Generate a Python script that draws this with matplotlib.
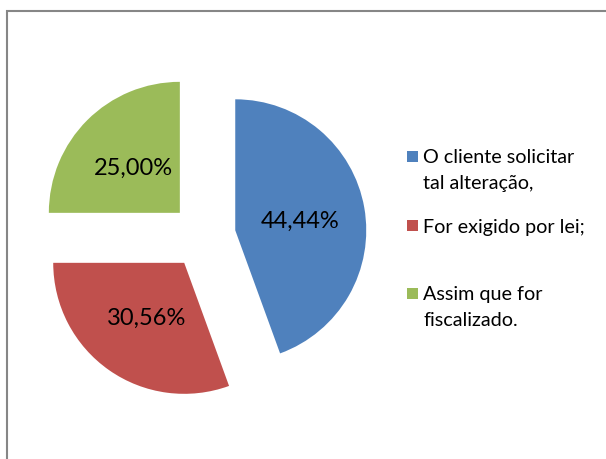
import matplotlib
matplotlib.use("Agg")
import matplotlib.pyplot as plt
from matplotlib.patches import Rectangle

# chart data
labels = ["O cliente solicitar\ntal alteração,", "For exigido por lei;", "Assim que for\nfiscalizado."]
values = [44.44, 30.56, 25.00]
colors = ["#4F81BD", "#C0504D", "#9BBB59"]

plt.rcParams["font.family"] = ["Lato", "DejaVu Sans"]

W, H = 606, 459
R = 131.0          # pie radius in pixels
CX, CY = 203, 236  # pie centre in pixels (from top-left)

fig = plt.figure(figsize=(W / 100, H / 100), dpi=100)
ax = fig.add_axes([0, 0, 1, 1])

wedges, texts, autotexts = ax.pie(
    values,
    colors=colors,
    startangle=90,
    counterclock=False,
    explode=[0.25, 0.25, 0.25],
    autopct=lambda p: f"{p:.2f}%".replace(".", ","),
    pctdistance=0.5,
    wedgeprops={"linewidth": 0},
    textprops={"fontsize": 17, "color": "black"},
)
for t in autotexts:
    t.set_va("center_baseline")

ax.set_aspect("auto")
ax.set_xlim(-CX / R, (W - CX) / R)
ax.set_ylim(-(H - CY) / R, CY / R)
ax.axis("off")

# outer chart frame
fig.add_artist(Rectangle((7 / W, -0.2), 1.2, 1.2 - 11 / H,
                         transform=fig.transFigure, fill=False,
                         edgecolor="#868686", linewidth=1.5))

# legend, drawn by hand so the marker sits on the first line
legend_tops = [156, 226, 293]
line_step = 26
for lab, col, y in zip(labels, colors, legend_tops):
    fy = 1 - y / H
    fig.add_artist(Rectangle((407 / W, fy - 5.5 / H), 11 / W, 11 / H,
                             transform=fig.transFigure, facecolor=col,
                             edgecolor="none"))
    for j, line in enumerate(lab.split("\n")):
        fig.text(423 / W, 1 - (y + j * line_step) / H, line, fontsize=14.2,
                 va="center_baseline", ha="left", color="black")

fig.savefig("out.png", dpi=100)
